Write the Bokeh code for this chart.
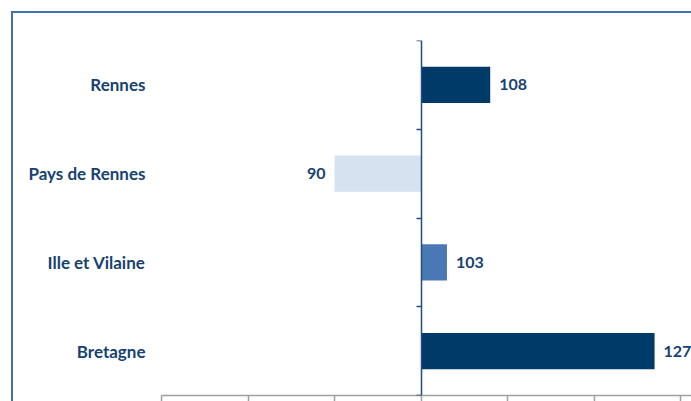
from bokeh.plotting import figure
from bokeh.models import Range1d, LinearAxis, FixedTicker, ColumnDataSource, InlineStyleSheet
from bokeh.core.properties import value
from bokeh.embed import file_html
from bokeh.resources import INLINE

# Data
categories = ["Rennes", "Pays de Rennes", "Ille et Vilaine", "Bretagne"]
values = [108, 90, 103, 127]
bar_colors = ["#003a68", "#d6e2ef", "#4a78b5", "#003a68"]
baseline = 100
x_ticks = [70, 80, 90, 100, 110, 120, 130]

TEXT_COLOR = "#17426f"
FONT = "Lato"

n = len(categories)
centers = [i + 0.5 for i in range(n)]
boundaries = [float(i) for i in range(n + 1)]

p = figure(width=691, height=401, output_backend="svg", toolbar_location=None,
           x_range=Range1d(70, 131.27), y_range=Range1d(n, 0),
           x_axis_type=None, y_axis_type=None,
           min_border_left=161, min_border_right=0, min_border_top=40, min_border_bottom=6)
p.outline_line_color = None
p.background_fill_color = "white"
p.border_fill_color = "white"
p.xgrid.visible = False
p.ygrid.visible = False

src = ColumnDataSource(dict(
    y=centers, right=values, left=[baseline] * n, color=bar_colors,
    label=[str(v) for v in values],
    align=["left" if v >= baseline else "right" for v in values],
    xoff=[9 if v >= baseline else -9 for v in values],
))

p.hbar(y="y", left="left", right="right", height=0.41, color="color", line_color=None, source=src)
p.text(x="right", y="y", text="label", text_align="align", x_offset="xoff",
       text_baseline="middle", text_font=value(FONT), text_font_style="bold",
       text_font_size="16px", text_color=TEXT_COLOR, source=src)

# category labels axis (left)
lab_axis = LinearAxis(ticker=FixedTicker(ticks=centers),
                      major_label_overrides={c: name for c, name in zip(centers, categories)})
lab_axis.axis_line_color = None
lab_axis.major_tick_line_color = None
lab_axis.minor_tick_line_color = None
lab_axis.major_label_standoff = 10
lab_axis.major_label_text_font = FONT
lab_axis.major_label_text_font_style = "bold"
lab_axis.major_label_text_font_size = "17px"
lab_axis.major_label_text_color = TEXT_COLOR
p.add_layout(lab_axis, "left")

# central axis at baseline
mid_axis = LinearAxis(ticker=FixedTicker(ticks=boundaries), fixed_location=baseline,
                      major_label_overrides={b: "" for b in boundaries})
mid_axis.axis_line_color = "#1f4e83"
mid_axis.axis_line_width = 1.5
mid_axis.major_tick_line_color = "#1f4e83"
mid_axis.major_tick_line_width = 1.5
mid_axis.major_tick_out = 5
mid_axis.major_tick_in = 0
mid_axis.minor_tick_line_color = None
p.add_layout(mid_axis, "left")

# bottom value axis
x_axis = LinearAxis(ticker=FixedTicker(ticks=x_ticks),
                    major_label_overrides={t: "" for t in x_ticks})
x_axis.axis_line_color = "#a0a0a0"
x_axis.axis_line_width = 1.5
x_axis.major_tick_line_color = "#a0a0a0"
x_axis.major_tick_line_width = 1.5
x_axis.major_tick_out = 6
x_axis.major_tick_in = 0
x_axis.minor_tick_line_color = None
x_axis.major_label_standoff = 0
p.add_layout(x_axis, "below")

# outer frame line of the chart area (left and top edges)
p.stylesheets = [InlineStyleSheet(css="""
:host { position: relative; }
:host::after {
  content: ""; position: absolute; left: 11px; top: 11px; right: 0; bottom: 0;
  border-left: 2px solid #3f72af; border-top: 2px solid #3f72af;
  pointer-events: none; z-index: 10;
}
""")]

open("out.html", "w").write(file_html(p, INLINE))
